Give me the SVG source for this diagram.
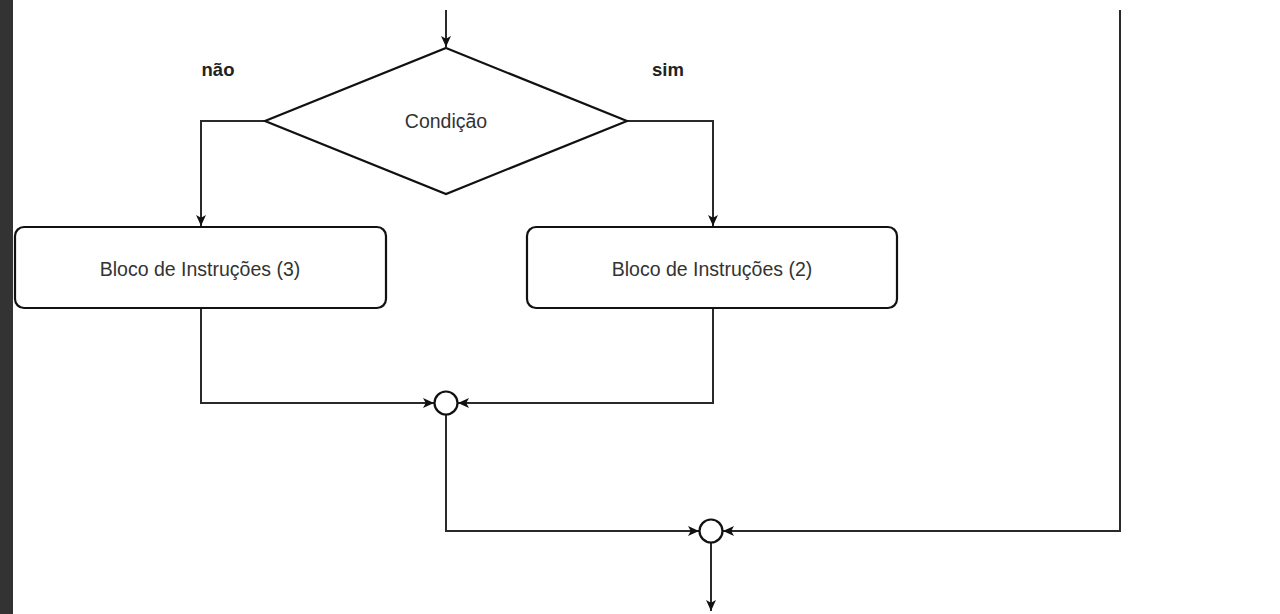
<svg xmlns="http://www.w3.org/2000/svg" width="1280" height="614" viewBox="0 0 1280 614">
  <style>
    .shape { fill: #ffffff; stroke: #111111; stroke-width: 2.2; }
    .edge { fill: none; stroke: #2a2a2a; stroke-width: 2; }
    .label { font-family: "Liberation Sans", Arial, sans-serif; fill: #333333; text-anchor: middle; }
    .body { font-size: 19.5px; }
    .branch { font-size: 18.5px; font-weight: bold; fill: #222222; }
  </style>
  <defs>
    <marker id="arrow" markerUnits="userSpaceOnUse" viewBox="0 0 10 10" refX="10" refY="5" markerWidth="11" markerHeight="11" orient="auto">
      <path d="M0,0.5 L10,5 L0,9.5 L2.5,5 Z" fill="#111111"/>
    </marker>
  </defs>

  <rect x="0" y="0" width="1280" height="614" fill="#ffffff"/>
  <!-- dark sidebar -->
  <rect x="0" y="0" width="13" height="614" fill="#333333"/>

  <g id="connectors">
    <path class="edge" d="M446,10 L446,47" marker-end="url(#arrow)"/>
    <path class="edge" d="M265,121 L201,121 L201,226" marker-end="url(#arrow)"/>
    <path class="edge" d="M627,121 L713,121 L713,226" marker-end="url(#arrow)"/>
    <path class="edge" d="M201,308 L201,403 L434,403" marker-end="url(#arrow)"/>
    <path class="edge" d="M713,308 L713,403 L458,403" marker-end="url(#arrow)"/>
    <path class="edge" d="M446,415 L446,531 L699,531" marker-end="url(#arrow)"/>
    <path class="edge" d="M1120,10 L1120,531 L723,531" marker-end="url(#arrow)"/>
    <path class="edge" d="M711,543 L711,611" marker-end="url(#arrow)"/>
  </g>

  <g id="condicao">
    <polygon class="shape" points="446,48 627,121 446,194 265,121"/>
    <text class="label body" x="446" y="128">Condição</text>
  </g>

  <g id="label-nao">
    <text class="label branch" x="218" y="76">não</text>
  </g>

  <g id="label-sim">
    <text class="label branch" x="668" y="76">sim</text>
  </g>

  <g id="bloco3">
    <rect class="shape" x="15" y="227" width="371" height="81" rx="9" ry="9"/>
    <text class="label body" x="200" y="276">Bloco de Instruções (3)</text>
  </g>

  <g id="bloco2">
    <rect class="shape" x="527" y="227" width="370" height="81" rx="9" ry="9"/>
    <text class="label body" x="712" y="276">Bloco de Instruções (2)</text>
  </g>

  <g id="juncao1">
    <circle class="shape" cx="446" cy="403" r="11.5"/>
  </g>

  <g id="juncao2">
    <circle class="shape" cx="711" cy="531" r="11.5"/>
  </g>
</svg>
